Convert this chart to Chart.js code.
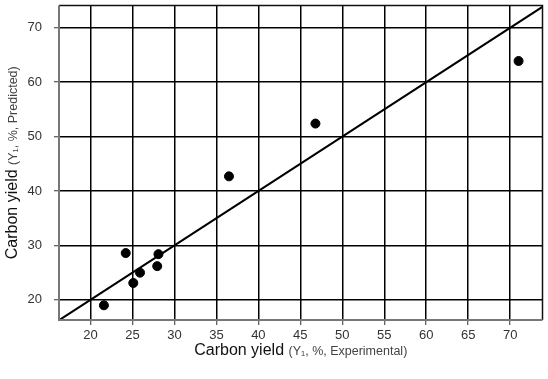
<!DOCTYPE html>
<html>
<head>
<meta charset="utf-8">
<script src="https://cdn.jsdelivr.net/npm/chart.js@4"></script>
<style>
  html, body { margin: 0; padding: 0; background: #fff; }
  #wrap { width: 548px; height: 379px; }
</style>
</head>
<body>
<div id="wrap"><canvas id="yieldChart" width="548" height="379"></canvas></div>
<script>
// experimental vs predicted carbon yield
const experimental = [21.6, 24.2, 25.1, 25.9, 27.95, 28.1, 36.5, 46.8, 71.0];
const predicted    = [19.0, 28.6, 23.1, 25.0, 26.2, 28.4, 42.7, 52.4, 63.9];
const xTicks = [20, 25, 30, 35, 40, 45, 50, 55, 60, 65, 70];
const yTicks = [20, 30, 40, 50, 60, 70];
const fitLine = [16, 75]; // y = x

const FONT = '"Liberation Sans", Arial, sans-serif';

// axis titles with the smaller "(Y1, ...)" part
function drawTitle(c, big, small, x, y, rot) {
  c.save();
  c.translate(x, y);
  c.rotate(rot);
  c.textBaseline = 'middle';
  c.font = '16px ' + FONT;
  const w1 = c.measureText(big + ' ').width;
  c.font = '12.5px ' + FONT;
  const w2 = c.measureText(small).width;
  let sx = -(w1 + w2) / 2;
  c.font = '16px ' + FONT;
  c.fillStyle = '#111';
  c.textAlign = 'left';
  c.fillText(big + ' ', sx, 0);
  c.font = '12.5px ' + FONT;
  c.fillStyle = '#444';
  c.fillText(small, sx + w1, 1);
  c.restore();
}

const framePlugin = {
  id: 'frame',
  afterDraw(chart) {
    const c = chart.ctx, a = chart.chartArea;
    c.save();
    c.strokeStyle = '#111';
    c.lineWidth = 1.5;
    c.beginPath();
    c.moveTo(a.left, a.top); c.lineTo(a.right, a.top); c.lineTo(a.right, a.bottom);
    c.stroke();
    c.strokeStyle = '#777';
    c.lineWidth = 2;
    c.beginPath();
    c.moveTo(a.left, a.top); c.lineTo(a.left, a.bottom); c.lineTo(a.right, a.bottom);
    c.stroke();
    c.restore();
    drawTitle(c, 'Carbon yield', '(Y\u2081, %, Experimental)', (a.left + a.right) / 2, 351, 0);
    drawTitle(c, 'Carbon yield', '(Y\u2081, %, Predicted)', 13, (a.top + a.bottom) / 2, -Math.PI / 2);
  }
};

new Chart(document.getElementById('yieldChart'), {
  type: 'scatter',
  data: {
    datasets: [
      {
        data: experimental.map((x, i) => ({x: x, y: predicted[i]})),
        backgroundColor: '#000',
        borderColor: '#000',
        pointRadius: 4.5,
        pointHoverRadius: 4.5
      },
      {
        data: fitLine.map(v => ({x: v, y: v})),
        showLine: true,
        borderColor: '#000',
        borderWidth: 2,
        pointRadius: 0
      }
    ]
  },
  options: {
    responsive: false,
    animation: false,
    layout: { padding: { top: 5, right: 4, left: 0, bottom: 0 } },
    plugins: { legend: { display: false }, tooltip: { enabled: false } },
    scales: {
      x: {
        type: 'linear',
        min: 16.25,
        max: 73.85,
        afterBuildTicks: s => { s.ticks = xTicks.map(v => ({value: v})); },
        afterFit: s => { s.height = 59; s.paddingLeft = 0; s.paddingRight = 0; },
        grid: { color: '#000', lineWidth: 1.5, tickLength: 5, tickColor: '#333', tickWidth: 1 },
        border: { display: false },
        ticks: { color: '#333', font: { family: FONT, size: 13 }, padding: 3 }
      },
      y: {
        type: 'linear',
        min: 16.3,
        max: 74.1,
        afterBuildTicks: s => { s.ticks = yTicks.map(v => ({value: v})); },
        afterFit: s => { s.width = 59; s.paddingTop = 0; s.paddingBottom = 0; },
        grid: { color: '#000', lineWidth: 1.5, tickLength: 5, tickColor: '#333', tickWidth: 1 },
        border: { display: false },
        ticks: { color: '#333', font: { family: FONT, size: 13 }, padding: 12 }
      }
    }
  },
  plugins: [framePlugin]
});
</script>
</body>
</html>
